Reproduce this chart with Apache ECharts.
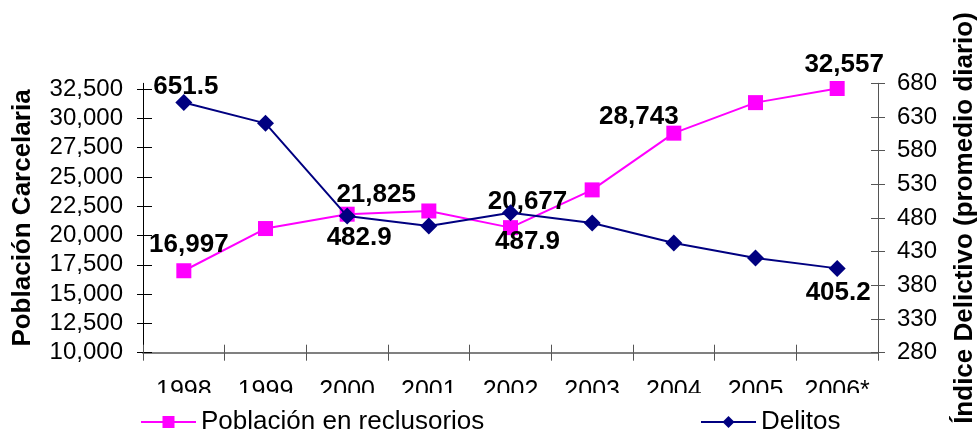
<!DOCTYPE html>
<html>
<head>
<meta charset="utf-8">
<script src="https://cdn.jsdelivr.net/npm/echarts@6/dist/echarts.min.js"></script>
<style>
html,body{margin:0;padding:0;background:#fff;}
#c{width:979px;height:435px;}
</style>
</head>
<body>
<div id="c"></div>
<script>
const years = ['1998','1999','2000','2001','2002','2003','2004','2005','2006*'];
const poblacion = [16997, 20600, 21825, 22100, 20677, 23900, 28743, 31350, 32557];
const delitos = [651.5, 620.5, 482.9, 468.0, 487.9, 472.7, 443.0, 420.7, 405.2];
const leftTicks = [10000, 12500, 15000, 17500, 20000, 22500, 25000, 27500, 30000, 32500];
const rightTicks = [280, 330, 380, 430, 480, 530, 580, 630, 680];
const seriesNames = ['Población en reclusorios', 'Delitos'];
const leftTitle = 'Población Carcelaria';
const rightTitle = 'Índice Delictivo (promedio diario)';

// label placement (style config: index -> offset of label centre from point)
const popLabelOffsets = {0: [5, -26], 2: [29, -19], 4: [17, -26], 6: [-35, -16], 8: [7, -24]};
const delLabelOffsets = {0: [2, -16], 2: [12, 22], 4: [17, 29], 8: [1, 24]};

const FONT = '"Liberation Sans", Arial, Helvetica, sans-serif';
const fmtInt = v => Math.round(v).toLocaleString('en-US');

const labelStyle = {fontFamily: FONT, fontWeight: 'bold', fontSize: 26, color: '#000'};

function buildData(values, offsets, fmt) {
  return values.map((v, i) => {
    if (offsets[i]) {
      return {value: v, label: Object.assign({show: true, position: 'inside', offset: offsets[i], formatter: () => fmt(v)}, labelStyle)};
    }
    return {value: v};
  });
}

const chart = echarts.init(document.getElementById('c'), null, {renderer: 'canvas'});

const legendCommon = {
  top: 409, padding: 0,
  itemWidth: 55, itemHeight: 15,
  textStyle: {fontFamily: FONT, fontSize: 26, color: '#000'},
  z: 200
};

chart.setOption({
  animation: false,
  backgroundColor: '#fff',
  grid: {left: 143, right: 101, top: 83.3, bottom: 82.3, containLabel: false, outerBoundsMode: 'none'},
  legend: [
    Object.assign({data: [seriesNames[0]], left: 140}, legendCommon),
    Object.assign({data: [seriesNames[1]], left: 700}, legendCommon)
  ],
  graphic: [{
    type: 'rect', z: 100, silent: true,
    shape: {x: 100, y: 393, width: 820, height: 42},
    style: {fill: '#fff'}
  }],
  xAxis: [{
    type: 'category', data: years, boundaryGap: true, position: 'bottom',
    axisLine: {show: true, lineStyle: {color: '#808080', width: 2}},
    axisTick: {show: true, inside: false, interval: 0, length: 8, lineStyle: {color: '#555', width: 1}},
    axisLabel: {interval: 0, fontFamily: FONT, fontSize: 25, color: '#000', margin: 26},
    splitLine: {show: false}
  }, {
    type: 'category', data: years, boundaryGap: true, position: 'bottom',
    axisLine: {show: false},
    axisTick: {show: true, inside: true, interval: 0, length: 8, lineStyle: {color: '#555', width: 1}},
    axisLabel: {show: false},
    splitLine: {show: false}
  }],
  yAxis: [{
    type: 'value', position: 'left', min: 10000, max: 33000,
    name: leftTitle, nameLocation: 'middle', nameRotate: 90, nameGap: 107,
    nameTextStyle: {fontFamily: FONT, fontWeight: 'bold', fontSize: 26, color: '#000'},
    axisLine: {show: true, lineStyle: {color: '#000', width: 1}},
    axisTick: {show: true, inside: false, length: 6, customValues: leftTicks, lineStyle: {color: '#000'}},
    axisLabel: {customValues: leftTicks, formatter: fmtInt, fontFamily: FONT, fontSize: 24, color: '#000', margin: 20},
    splitLine: {show: false}
  }, {
    type: 'value', position: 'right', min: 280, max: 680,
    name: rightTitle, nameLocation: 'middle', nameRotate: 90, nameGap: 74,
    nameTextStyle: {fontFamily: FONT, fontWeight: 'bold', fontSize: 26, color: '#000'},
    axisLine: {show: true, lineStyle: {color: '#555', width: 1}},
    axisTick: {show: true, inside: false, length: 7, customValues: rightTicks, lineStyle: {color: '#555'}},
    axisLabel: {customValues: rightTicks, fontFamily: FONT, fontSize: 24, color: '#000', margin: 19},
    splitLine: {show: false}
  }, {
    type: 'value', position: 'left', min: 10000, max: 33000,
    axisLine: {show: false},
    axisTick: {show: true, inside: true, length: 9, customValues: leftTicks, lineStyle: {color: '#000'}},
    axisLabel: {show: false}, splitLine: {show: false}
  }, {
    type: 'value', position: 'right', min: 280, max: 680,
    axisLine: {show: false},
    axisTick: {show: true, inside: true, length: 7, customValues: rightTicks, lineStyle: {color: '#555'}},
    axisLabel: {show: false}, splitLine: {show: false}
  }],
  series: [{
    name: seriesNames[0], type: 'line', xAxisIndex: 0, yAxisIndex: 0,
    data: buildData(poblacion, popLabelOffsets, fmtInt),
    symbol: 'rect', symbolSize: 15, showAllSymbol: true,
    lineStyle: {color: '#FF00FF', width: 2},
    itemStyle: {color: '#FF00FF'},
    label: {show: false},
    z: 3
  }, {
    name: seriesNames[1], type: 'line', xAxisIndex: 0, yAxisIndex: 1,
    data: buildData(delitos, delLabelOffsets, v => v.toFixed(1)),
    symbol: 'diamond', symbolSize: 17, showAllSymbol: true,
    lineStyle: {color: '#000080', width: 2},
    itemStyle: {color: '#000080'},
    label: {show: false},
    z: 4
  }]
});
</script>
</body>
</html>
